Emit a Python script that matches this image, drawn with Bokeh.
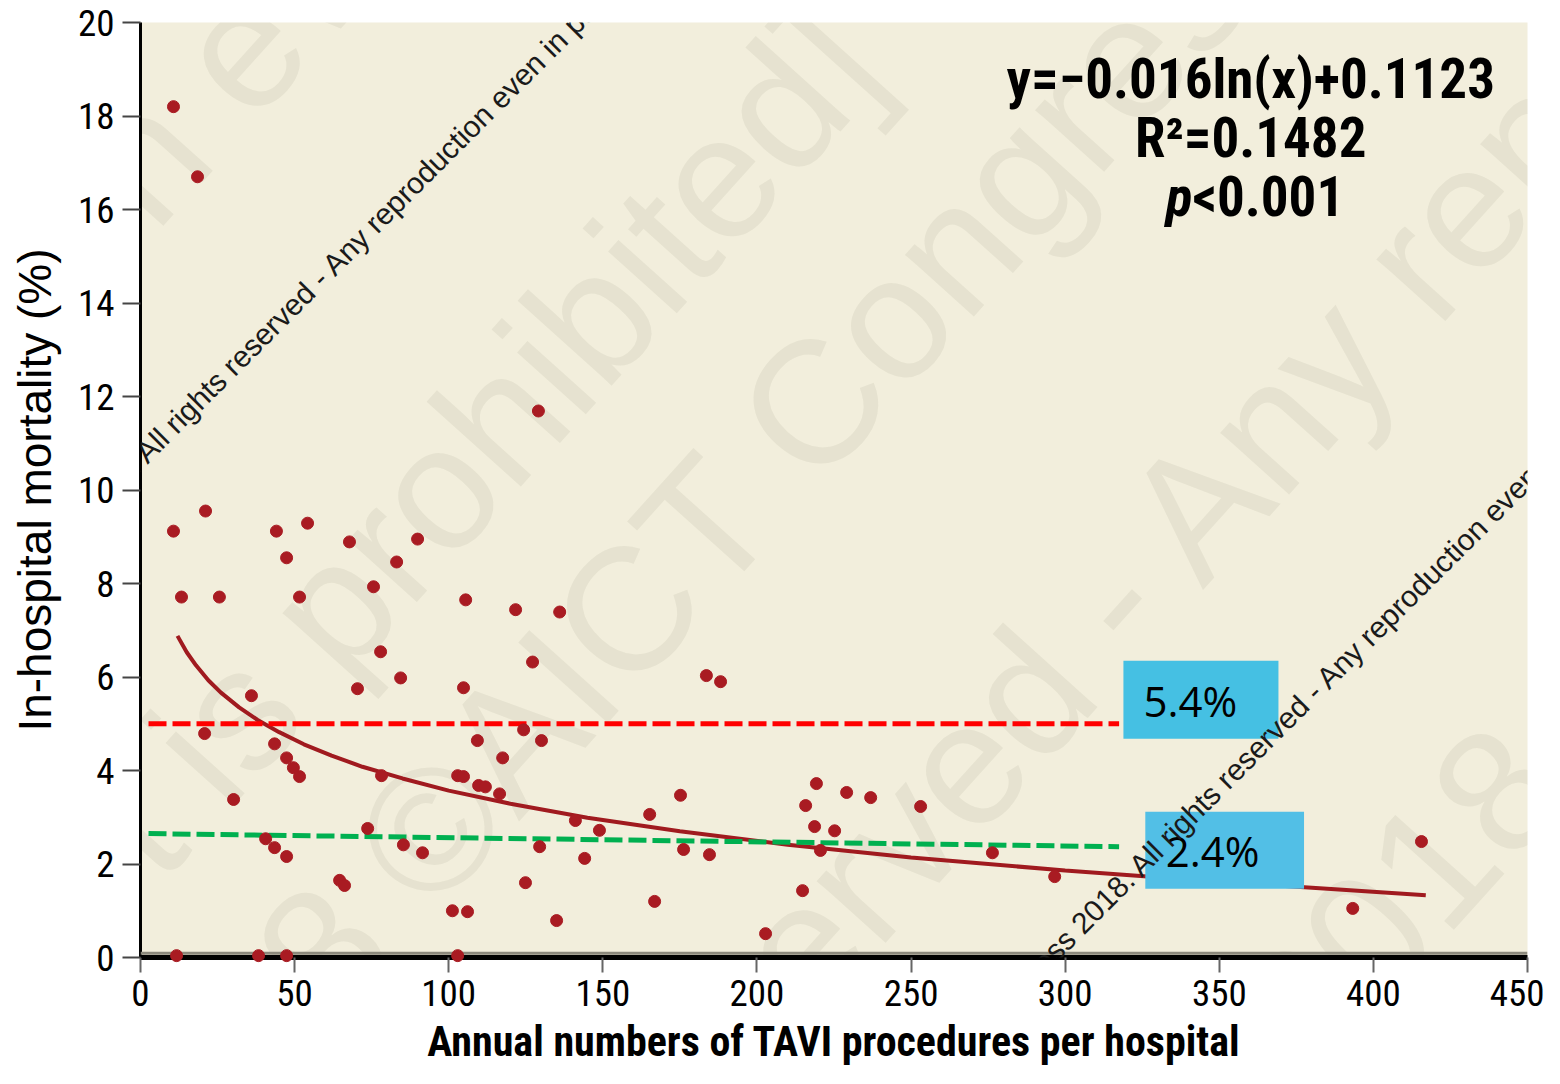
import math
from bokeh.plotting import figure
from bokeh.models import FixedTicker, Label, BoxAnnotation, Span
from bokeh.embed import file_html
from bokeh.resources import INLINE

# ---------------- data ----------------
annual_tavi = [10.7, 18.5, 10.7, 21.1, 13.3, 25.6, 44.1, 47.4, 54.2, 51.6,
               67.8, 75.6, 83.1, 89.9, 77.9, 84.4, 70.4, 36.0, 20.8, 43.5,
               47.4, 49.6, 51.6, 78.2, 30.2, 73.7, 40.6, 43.5, 47.4, 85.3,
               91.5, 64.6, 66.2, 11.7, 38.3, 47.4, 129.1, 105.5, 121.7, 136.0,
               127.2, 104.8, 183.6, 188.2, 124.3, 109.3, 130.1, 117.5, 102.9, 104.8,
               109.7, 111.9, 116.5, 175.2, 141.1, 148.9, 165.2, 129.5, 144.1, 176.2,
               184.6, 124.9, 166.8, 101.2, 106.1, 135.0, 102.9, 202.8, 219.3, 215.8,
               229.1, 236.9, 253.1, 218.7, 225.2, 220.6, 276.4, 296.6, 214.8, 415.6,
               393.3]
mortality = [18.2, 16.7, 9.12, 9.55, 7.71, 7.71, 9.12, 8.55, 9.29, 7.71,
             8.89, 7.93, 8.46, 8.95, 6.54, 5.98, 5.75, 5.60, 4.79, 4.57,
             4.27, 4.06, 3.87, 3.89, 3.38, 2.76, 2.54, 2.35, 2.16, 2.41,
             2.24, 1.65, 1.54, 0.04, 0.04, 0.04, 11.69, 7.65, 7.44, 7.39,
             6.32, 5.77, 6.03, 5.90, 4.87, 4.64, 4.64, 4.27, 3.89, 3.87,
             3.68, 3.65, 3.50, 3.47, 2.93, 2.72, 3.06, 2.37, 2.12, 2.31,
             2.20, 1.60, 1.20, 1.00, 0.98, 0.79, 0.04, 0.51, 3.72, 3.25,
             3.53, 3.42, 3.23, 2.80, 2.71, 2.29, 2.24, 1.73, 1.43, 2.48,
             1.05]

# logarithmic trend curve, as drawn in the reference
trend_x = [12, 15, 18, 22, 26, 32, 38, 45, 53, 62, 72, 85, 100, 120, 145,
           175, 210, 250, 300, 350, 390, 417]
trend_y = [6.88, 6.53, 6.25, 5.93, 5.67, 5.35, 5.08, 4.82, 4.56, 4.32, 4.08,
           3.83, 3.57, 3.29, 2.99, 2.70, 2.41, 2.14, 1.86, 1.62, 1.45, 1.33]

# reference levels (dashed)
level_x = [2.6, 317.5]
low_volume_level = [5.0, 5.0]
high_volume_level = [2.65, 2.37]
level_labels = ["5.4%", "2.4%"]

x_ticks = [0, 50, 100, 150, 200, 250, 300, 350, 400, 450]
y_ticks = [0, 2, 4, 6, 8, 10, 12, 14, 16, 18, 20]

equation_lines = ["y=\u22120.016ln(x)+0.1123", "R\u00b2=0.1482"]
p_label = ("p", "<0.001")

x_title = "Annual numbers of TAVI procedures per hospital"
y_title = "In-hospital mortality (%)"

NARROW = "Roboto Condensed, DejaVu Sans Condensed, Liberation Sans Narrow, Roboto"

# ---------------- figure ----------------
p = figure(width=1544, height=1068, x_range=(0, 450), y_range=(0, 20),
           output_backend="svg", toolbar_location=None,
           min_border_left=140, min_border_right=17,
           min_border_top=22, min_border_bottom=110)
p.background_fill_color = "#F2EEDC"
p.border_fill_color = "white"
p.outline_line_color = None
p.xgrid.visible = False
p.ygrid.visible = False

for ax in (p.xaxis[0], p.yaxis[0]):
    ax.minor_tick_line_color = None
    ax.major_tick_in = 0
    ax.major_label_text_font = NARROW
    ax.major_label_text_color = "black"
    ax.axis_line_color = "black"

p.xaxis[0].ticker = FixedTicker(ticks=x_ticks)
p.yaxis[0].ticker = FixedTicker(ticks=y_ticks)

p.xaxis[0].axis_line_width = 5
p.xaxis[0].major_tick_out = 15
p.xaxis[0].major_tick_line_color = "#666666"
p.xaxis[0].major_tick_line_width = 2
p.xaxis[0].major_label_standoff = 7
p.xaxis[0].major_label_text_font_size = "37px"
p.xaxis[0].axis_label = x_title
p.xaxis[0].axis_label_text_font = NARROW
p.xaxis[0].axis_label_text_font_style = "bold"
p.xaxis[0].axis_label_text_font_size = "42px"
p.xaxis[0].axis_label_text_color = "black"
p.xaxis[0].axis_label_standoff = 8

p.yaxis[0].axis_line_width = 3
p.yaxis[0].major_tick_out = 18
p.yaxis[0].major_tick_line_color = "#444444"
p.yaxis[0].major_tick_line_width = 2
p.yaxis[0].major_label_standoff = 8
p.yaxis[0].major_label_text_font_size = "37px"
p.yaxis[0].axis_label = y_title
p.yaxis[0].axis_label_text_font = "Liberation Sans"
p.yaxis[0].axis_label_text_font_style = "normal"
p.yaxis[0].axis_label_text_font_size = "46px"
p.yaxis[0].axis_label_text_color = "black"
p.yaxis[0].axis_label_standoff = 14

# grey edge just above the bottom axis
p.add_layout(Span(location=0.09, dimension="width", line_color="#8C897C", line_width=3))

# big faint watermark
wm_color = "#6E6A5A"
big = [
    ("reproduction even in part is prohibited", -199.9, 2.41, "left"),
    ("Chart is prohibited]", 228.7, 19.72, "right"),
    ("2018 \u00a9AICT Congress 2018", -14.9, -5.24, "left"),
    ("reserved - Any reproduction", 150.6, -4.42, "left"),
    ("2018", 408.8, 1.24, "center"),
]
for txt, x, y, al in big:
    p.add_layout(Label(x=x, y=y, text=txt, angle=math.radians(48),
                       text_font="Liberation Sans", text_font_size="175px",
                       text_color=wm_color, text_alpha=0.09,
                       text_align=al, text_baseline="middle", level="underlay"))

# data
p.line(trend_x, trend_y, line_width=4, color="#A01A1F")
p.line(level_x, low_volume_level, line_width=5, color="#FF0000", line_dash="18 6")
p.line(level_x, high_volume_level, line_width=5, color="#00B050", line_dash="18 6")
p.scatter(annual_tavi, mortality, size=12, color="#A91B22", level="overlay")

# value boxes
p.add_layout(BoxAnnotation(left=318.9, right=369.2, bottom=4.68, top=6.35,
                           fill_color="#45C0E3", fill_alpha=1.0, line_color=None))
p.add_layout(BoxAnnotation(left=326.0, right=377.5, bottom=1.47, top=3.12,
                           fill_color="#52BFE6", fill_alpha=1.0, line_color=None))
p.add_layout(Label(x=325.4, y=5.50, text=level_labels[0], text_font="Open Sans",
                   text_font_size="42px", text_color="black",
                   text_align="left", text_baseline="alphabetic"))
p.add_layout(Label(x=332.6, y=2.28, text=level_labels[1], text_font="Open Sans",
                   text_font_size="42px", text_color="black",
                   text_align="left", text_baseline="alphabetic"))

# regression annotation
for txt, y in zip(equation_lines, [18.80, 17.52]):
    p.add_layout(Label(x=360.2, y=y, text=txt, text_font=NARROW,
                       text_font_style="bold", text_font_size="55px",
                       text_color="black", text_align="center", text_baseline="middle"))
p.add_layout(Label(x=341.3, y=16.26, text=p_label[0], text_font=NARROW,
                   text_font_style="bold italic", text_font_size="55px",
                   text_color="black", text_align="right", text_baseline="middle"))
p.add_layout(Label(x=341.3, y=16.26, text=p_label[1], text_font=NARROW,
                   text_font_style="bold", text_font_size="55px",
                   text_color="black", text_align="left", text_baseline="middle"))

# small copyright watermark
small_txt = "\u00a9 AICT Congress 2018. All rights reserved - Any reproduction even in part is prohibited"
for x, y in [(-74.3, 5.81), (248.2, -3.03)]:
    p.add_layout(Label(x=x, y=y, text=small_txt, angle=math.radians(45),
                       text_font="Liberation Sans", text_font_size="30px",
                       text_color="#1A1A1A", text_align="left", text_baseline="middle"))

open("out.html", "w").write(file_html(p, INLINE))
